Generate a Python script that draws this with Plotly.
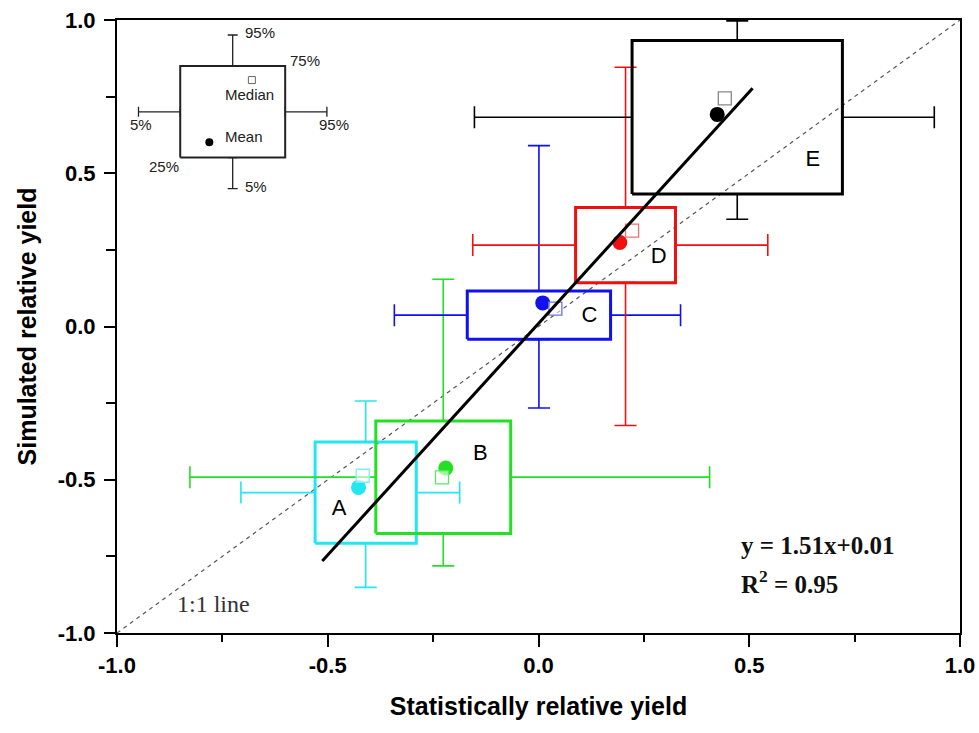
import plotly.graph_objects as go

# ---- data ----
groups = ["A", "B", "C", "D", "E"]
colors = ["#22E6F0", "#22E022", "#1010F0", "#F01010", "#000000"]
median_colors = ["#7FEFF5", "#5FE85F", "#7070E0", "#F07070", "#888888"]

# box (25%-75%) edges
box_x0 = [-0.530, -0.386, -0.169, 0.088, 0.222]
box_x1 = [-0.290, -0.066, 0.171, 0.325, 0.721]
box_y0 = [-0.707, -0.675, -0.042, 0.143, 0.432]
box_y1 = [-0.377, -0.308, 0.116, 0.388, 0.933]
# whisker ends (5% / 95%)
wx_lo = [-0.706, -0.827, -0.342, -0.156, -0.152]
wx_hi = [-0.187, 0.406, 0.337, 0.544, 0.939]
wy_lo = [-0.851, -0.781, -0.266, -0.323, 0.350]
wy_hi = [-0.243, 0.154, 0.590, 0.846, 0.997]
# means and medians
mean_x = [-0.427, -0.220, 0.010, 0.193, 0.424]
mean_y = [-0.525, -0.462, 0.077, 0.274, 0.692]
med_x = [-0.417, -0.229, 0.040, 0.222, 0.442]
med_y = [-0.487, -0.492, 0.058, 0.313, 0.744]
# group label positions
lab_x = [-0.473, -0.138, 0.121, 0.285, 0.651]
lab_y = [-0.596, -0.416, 0.032, 0.224, 0.542]

# regression line y = 1.51x + 0.01 (drawn end points)
reg_x = [-0.513, 0.508]
reg_y = [-0.765, 0.777]
# 1:1 line
one_x = [-1.0, 1.0]
one_y = [-1.0, 1.0]

# axis ticks
tick_vals = [-1.0, -0.5, 0.0, 0.5, 1.0]
tick_text = ["-1.0", "-0.5", "0.0", "0.5", "1.0"]

# legend inset (key box)
key_box_x = [-0.850, -0.601]
key_box_y = [0.551, 0.850]
key_wx = [-0.949, -0.502]
key_wy = [0.450, 0.951]
key_mean = (-0.781, 0.601)
key_median = (-0.680, 0.804)
key_labels = ["95%", "75%", "Median", "5%", "95%", "Mean", "25%", "5%"]
key_lab_x = [-0.701, -0.594, -0.748, -0.974, -0.525, -0.748, -0.929, -0.701]
key_lab_y = [0.960, 0.869, 0.757, 0.658, 0.658, 0.620, 0.522, 0.457]

fig = go.Figure()

# 1:1 line
fig.add_trace(go.Scatter(x=one_x, y=one_y, mode="lines",
                         line=dict(color="#555555", width=1.2, dash="4px,4px"),
                         showlegend=False, hoverinfo="skip"))

for i, g in enumerate(groups):
    c = colors[i]
    cx = (box_x0[i] + box_x1[i]) / 2
    cy = (box_y0[i] + box_y1[i]) / 2
    # box outline
    fig.add_trace(go.Scatter(
        x=[box_x0[i], box_x1[i], box_x1[i], box_x0[i], box_x0[i]],
        y=[box_y0[i], box_y0[i], box_y1[i], box_y1[i], box_y0[i]],
        mode="lines", line=dict(color=c, width=3),
        showlegend=False, hoverinfo="skip"))
    # horizontal whiskers from box edges
    fig.add_trace(go.Scatter(
        x=[box_x1[i], box_x0[i]], y=[cy, cy], mode="markers",
        marker=dict(size=1, opacity=0),
        error_x=dict(type="data", symmetric=False,
                     array=[wx_hi[i] - box_x1[i], 0],
                     arrayminus=[0, box_x0[i] - wx_lo[i]],
                     color=c, thickness=1.6, width=11),
        showlegend=False, hoverinfo="skip"))
    # vertical whiskers from box edges
    fig.add_trace(go.Scatter(
        x=[cx, cx], y=[box_y1[i], box_y0[i]], mode="markers",
        marker=dict(size=1, opacity=0),
        error_y=dict(type="data", symmetric=False,
                     array=[wy_hi[i] - box_y1[i], 0],
                     arrayminus=[0, box_y0[i] - wy_lo[i]],
                     color=c, thickness=1.6, width=11),
        showlegend=False, hoverinfo="skip"))

# means
fig.add_trace(go.Scatter(x=mean_x, y=mean_y, mode="markers",
                         marker=dict(size=15, color=colors, symbol="circle"),
                         showlegend=False, hoverinfo="skip"))
# medians
fig.add_trace(go.Scatter(x=med_x, y=med_y, mode="markers",
                         marker=dict(size=13, color="rgba(255,255,255,0.6)", symbol="square",
                                     line=dict(color=median_colors, width=1.3)),
                         showlegend=False, hoverinfo="skip"))

# regression line
fig.add_trace(go.Scatter(x=reg_x, y=reg_y, mode="lines",
                         line=dict(color="black", width=3),
                         showlegend=False, hoverinfo="skip"))

# group labels
fig.add_trace(go.Scatter(x=lab_x, y=lab_y, mode="text", text=groups,
                         textfont=dict(family="Liberation Sans, Arial", size=22, color="black"),
                         showlegend=False, hoverinfo="skip"))

# ---- legend inset ----
fig.add_trace(go.Scatter(
    x=[key_box_x[0], key_box_x[1], key_box_x[1], key_box_x[0], key_box_x[0]],
    y=[key_box_y[0], key_box_y[0], key_box_y[1], key_box_y[1], key_box_y[0]],
    mode="lines", line=dict(color="#222222", width=2),
    showlegend=False, hoverinfo="skip"))
kcx = (key_box_x[0] + key_box_x[1]) / 2
kcy = (key_box_y[0] + key_box_y[1]) / 2
fig.add_trace(go.Scatter(
    x=[key_box_x[1], key_box_x[0]], y=[kcy, kcy], mode="markers",
    marker=dict(size=1, opacity=0),
    error_x=dict(type="data", symmetric=False,
                 array=[key_wx[1] - key_box_x[1], 0],
                 arrayminus=[0, key_box_x[0] - key_wx[0]],
                 color="#222222", thickness=1.3, width=5),
    showlegend=False, hoverinfo="skip"))
fig.add_trace(go.Scatter(
    x=[kcx, kcx], y=[key_box_y[1], key_box_y[0]], mode="markers",
    marker=dict(size=1, opacity=0),
    error_y=dict(type="data", symmetric=False,
                 array=[key_wy[1] - key_box_y[1], 0],
                 arrayminus=[0, key_box_y[0] - key_wy[0]],
                 color="#222222", thickness=1.3, width=5),
    showlegend=False, hoverinfo="skip"))
fig.add_trace(go.Scatter(x=[key_mean[0]], y=[key_mean[1]], mode="markers",
                         marker=dict(size=8, color="black"),
                         showlegend=False, hoverinfo="skip"))
fig.add_trace(go.Scatter(x=[key_median[0]], y=[key_median[1]], mode="markers",
                         marker=dict(size=7, color="white", symbol="square",
                                     line=dict(color="#666666", width=1)),
                         showlegend=False, hoverinfo="skip"))
for t, x, y in zip(key_labels, key_lab_x, key_lab_y):
    fig.add_annotation(x=x, y=y, text=t, showarrow=False, xanchor="left", yanchor="middle",
                       font=dict(family="Liberation Sans, Arial", size=15, color="#222222"))

# equation and 1:1 label
fig.add_annotation(x=0.475, y=-0.713, text="<b>y = 1.51x+0.01</b>", showarrow=False,
                   xanchor="left", yanchor="middle",
                   font=dict(family="Liberation Serif, Times New Roman", size=25, color="#111111"))
fig.add_annotation(x=0.475, y=-0.833, text="<b>R<sup>2</sup> = 0.95</b>", showarrow=False,
                   xanchor="left", yanchor="middle",
                   font=dict(family="Liberation Serif, Times New Roman", size=25, color="#111111"))
fig.add_annotation(x=-0.862, y=-0.905, text="1:1 line", showarrow=False,
                   xanchor="left", yanchor="middle",
                   font=dict(family="Liberation Serif, Times New Roman", size=24, color="#333333"))

axis_common = dict(
    range=[-1, 1], tickmode="array", tickvals=tick_vals, ticktext=tick_text,
    showgrid=False, zeroline=False, automargin=False,
    showline=True, linecolor="black", linewidth=2, mirror=True,
    ticks="outside", tickwidth=2, tickcolor="black",
    minor=dict(ticks="outside", dtick=0.25, tick0=-1, tickwidth=2, tickcolor="black"),
    tickfont=dict(family="Liberation Sans, Arial", size=22, color="black", weight="bold"),
)

fig.update_layout(
    width=979, height=733,
    margin=dict(l=117, r=19, t=20, b=100),
    paper_bgcolor="white", plot_bgcolor="white",
    showlegend=False,
    xaxis=dict(axis_common, ticklen=12, ticklabelstandoff=0,
               minor=dict(axis_common["minor"], ticklen=7),
               title=dict(text="<b>Statistically relative yield</b>", standoff=20,
                          font=dict(family="Liberation Sans, Arial", size=25, color="black"))),
    yaxis=dict(axis_common, ticklen=11, ticklabelstandoff=4,
               minor=dict(axis_common["minor"], ticklen=9),
               title=dict(text="<b>Simulated relative yield</b>", standoff=14,
                          font=dict(family="Liberation Sans, Arial", size=25, color="black"))),
)

fig.write_html("out.html")
